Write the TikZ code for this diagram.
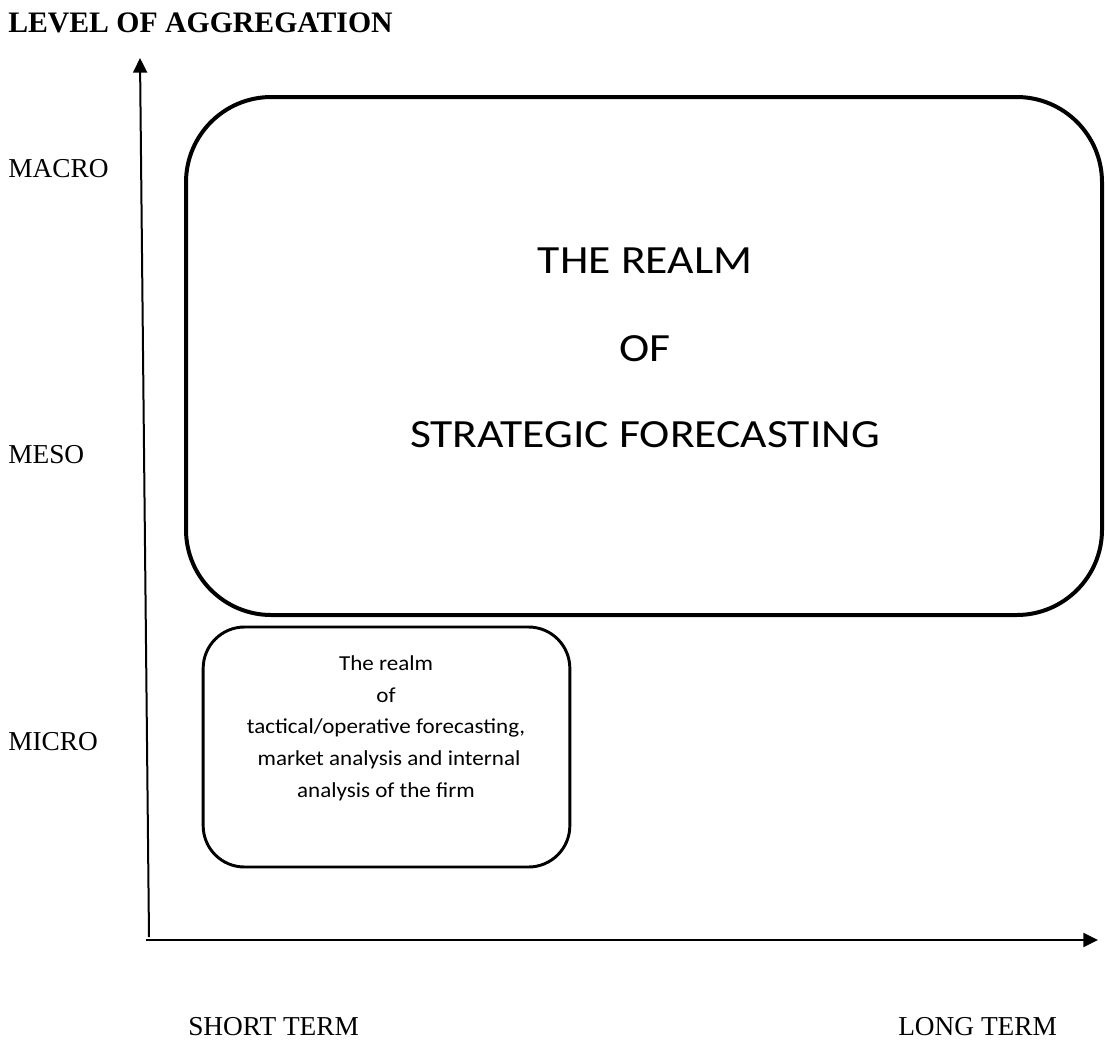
\documentclass[tikz,border=0pt]{standalone}
\usepackage{fontspec}
\setmainfont{Liberation Serif}
\newfontfamily\calibriwide[FakeStretch=1.14]{Carlito}
\newfontfamily\calibrinarrow[FakeStretch=1.08]{Carlito}
\usetikzlibrary{arrows.meta}

\begin{document}
\begin{tikzpicture}[x=0.75pt, y=-0.75pt,
  axisline/.style={line width=1.5pt, -{Triangle[length=11pt, width=10.5pt]}},
  levellabel/.style={anchor=base west, inner sep=0pt, text depth=0pt, font=\fontsize{20.5}{24}\selectfont},
  bigbox/.style={draw, line width=3pt, rounded corners=64pt, inner sep=0pt},
  smallbox/.style={draw, line width=2.2pt, rounded corners=31pt, inner sep=0pt},
  bigtext/.style={anchor=base, inner sep=0pt, font=\calibriwide\fontsize{30}{36}\selectfont},
  smalltext/.style={anchor=base, inner sep=0pt, font=\calibrinarrow\fontsize{16}{19}\selectfont}]

  \useasboundingbox (0,0) rectangle (1105,1039);

  % axis title
  \node[anchor=base west, inner sep=0pt, font=\bfseries\fontsize{22.3}{26}\selectfont]
    (title) at (8,32) {LEVEL OF AGGREGATION};

  % axes
  \coordinate (origin) at (149,937);
  \coordinate (ytip) at (140,58);
  \coordinate (xstart) at (146,940);
  \coordinate (xtip) at (1098,940);
  \draw[axisline] (origin) -- (ytip);
  \draw[axisline] (xstart) -- (xtip);

  % vertical scale
  \node[levellabel] (macro) at (8,177) {MACRO};
  \node[levellabel] (meso)  at (8,463) {MESO};
  \node[levellabel] (micro) at (8,750) {MICRO};

  % horizontal scale
  \node[levellabel] (short) at (188,1035) {SHORT TERM};
  \node[levellabel] (long)  at (898,1035) {LONG TERM};

  % strategic region
  \node[bigbox, minimum width=687pt, minimum height=388.5pt] (strategic) at (644,356) {};
  \node[bigtext] (s1) at (645,273) {THE REALM};
  \node[bigtext] (s2) at (645,361) {OF};
  \node[bigtext] (s3) at (645,447) {STRATEGIC FORECASTING};

  % tactical region
  \node[smallbox, minimum width=275pt, minimum height=180pt] (tactical) at (386.5,747) {};
  \node[smalltext] (t1) at (386,670) {The realm};
  \node[smalltext] (t2) at (386,702) {of};
  \node[smalltext] (t3) at (386,733) {tactical/operative forecasting,};
  \node[smalltext] (t4) at (389,765) {market analysis and internal};
  \node[smalltext] (t5) at (386,797) {analysis of the firm};
\end{tikzpicture}
\end{document}
